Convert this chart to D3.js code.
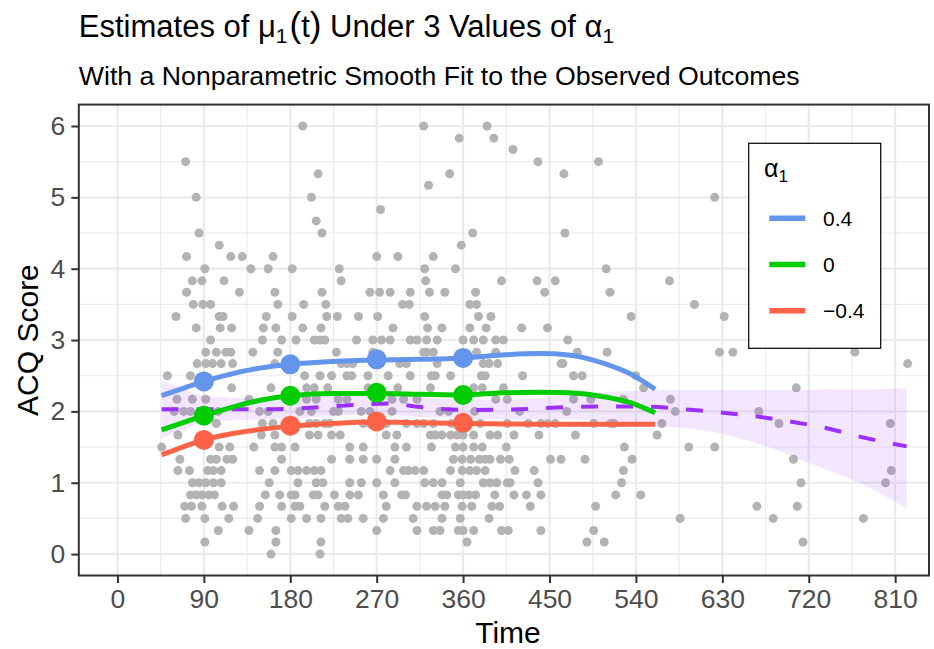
<!DOCTYPE html>
<html><head><meta charset="utf-8">
<script src="https://cdn.jsdelivr.net/npm/d3@7"></script>
<style>body{margin:0;background:#fff}svg{display:block;font-family:"Liberation Sans",Arial,Helvetica,sans-serif}</style>
</head><body><svg id="c" width="934" height="649"></svg>
<script>
// ---------- data ----------
const xTicks = [0, 90, 180, 270, 360, 450, 540, 630, 720, 810];
const yTicks = [0, 1, 2, 3, 4, 5, 6];
const seriesLabels = ["0.4", "0", "\u22120.4"];
const seriesColors = ["#6495ED", "#00CD00", "#FF6347"];

// observed outcomes: [score, times observed at that score]
const observedRows = [
  [6.00, [193, 319, 385]],
  [5.83, [356, 392]],
  [5.67, [412]],
  [5.50, [71, 438, 501]],
  [5.33, [209, 346, 465]],
  [5.17, [324]],
  [5.00, [82, 202, 622]],
  [4.83, [274]],
  [4.67, [207]],
  [4.50, [85, 213, 370, 466]],
  [4.33, [106, 358]],
  [4.17, [72, 118, 130, 162, 270, 292, 329]],
  [4.00, [91, 139, 157, 182, 231, 320, 352, 509]],
  [3.83, [78, 88, 111, 233, 321, 400, 437, 456, 575]],
  [3.67, [72, 127, 164, 213, 263, 273, 284, 305, 325, 341, 373, 445, 513]],
  [3.50, [79, 89, 97, 167, 194, 217, 297, 304, 367, 374, 601]],
  [3.33, [61, 106, 110, 155, 182, 218, 229, 251, 271, 320, 376, 389, 535, 632]],
  [3.17, [82, 107, 119, 152, 165, 193, 212, 287, 323, 338, 367, 384, 421, 448]],
  [3.00, [97, 151, 171, 186, 205, 211, 216, 249, 266, 275, 284, 305, 312, 322, 333, 360, 371, 381, 394, 402, 469]],
  [2.83, [92, 103, 113, 118, 141, 167, 228, 266, 319, 322, 329, 374, 394, 479, 510, 627, 641, 768]],
  [2.67, [83, 92, 99, 108, 120, 164, 233, 239, 245, 294, 301, 333, 381, 387, 396, 462, 464, 823]],
  [2.50, [52, 76, 195, 211, 223, 239, 244, 261, 282, 305, 327, 331, 347, 379, 383, 422, 475, 484, 540]],
  [2.33, [119, 160, 197, 205, 219, 261, 292, 326, 371, 380, 402, 548, 707]],
  [2.17, [62, 78, 92, 137, 197, 207, 230, 239, 286, 298, 312, 394, 406, 475, 493, 527, 576]],
  [2.00, [59, 69, 76, 105, 148, 157, 190, 202, 225, 230, 254, 263, 286, 336, 345, 372, 419, 468, 581, 668]],
  [1.83, [103, 151, 162, 200, 207, 216, 221, 256, 263, 280, 301, 312, 319, 329, 348, 378, 406, 428, 441, 448, 456, 496, 514, 517, 567, 689, 805]],
  [1.67, [63, 150, 164, 200, 209, 223, 232, 280, 291, 326, 331, 338, 347, 354, 360, 371, 388, 396, 413, 439, 477, 562]],
  [1.50, [46, 106, 117, 142, 164, 171, 185, 242, 256, 289, 301, 327, 352, 360, 371, 380, 405, 528, 595, 622]],
  [1.33, [65, 97, 103, 114, 120, 171, 223, 242, 256, 270, 289, 350, 359, 368, 377, 383, 388, 399, 408, 451, 462, 487, 536, 704]],
  [1.17, [63, 75, 94, 100, 108, 148, 164, 181, 188, 197, 205, 212, 284, 298, 303, 310, 319, 347, 359, 367, 374, 383, 414, 434, 527, 806]],
  [1.00, [78, 85, 92, 100, 108, 158, 188, 207, 214, 242, 254, 270, 289, 320, 329, 338, 357, 381, 388, 395, 406, 409, 438, 525, 712, 800]],
  [0.83, [76, 82, 88, 95, 101, 154, 169, 181, 185, 204, 209, 226, 242, 251, 277, 296, 300, 338, 343, 355, 360, 366, 373, 393, 413, 426, 441, 519, 545]],
  [0.67, [70, 77, 88, 109, 121, 148, 171, 185, 190, 216, 230, 237, 280, 312, 322, 331, 341, 359, 369, 390, 398, 430, 498, 666, 708]],
  [0.50, [71, 91, 116, 146, 181, 197, 212, 233, 240, 256, 277, 308, 338, 357, 387, 586, 683, 777]],
  [0.33, [105, 137, 165, 270, 312, 329, 336, 355, 360, 371, 400, 407, 441, 496]],
  [0.17, [91, 165, 212, 364, 489, 507, 714]],
  [0.00, [160, 211]]
];

// nonparametric smooth (loess) of observed outcomes, with confidence band
const loessTime  = [46, 100, 150, 200, 245, 285, 310, 330, 370, 420, 470, 520, 555, 590, 625, 665, 700, 740, 775, 822];
const loessValue = [2.03, 2.03, 2.03, 2.05, 2.09, 2.11, 2.07, 2.04, 2.02, 2.03, 2.06, 2.07, 2.065, 2.03, 1.99, 1.93, 1.86, 1.76, 1.64, 1.51];
const bandTime  = [46, 70, 90, 130, 180, 225, 270, 315, 360, 420, 470, 505, 540, 575, 608, 642, 678, 712, 747, 782, 822];
const bandUpper = [2.44, 2.31, 2.22, 2.19, 2.20, 2.22, 2.24, 2.20, 2.16, 2.17, 2.23, 2.27, 2.29, 2.30, 2.30, 2.30, 2.30, 2.30, 2.31, 2.31, 2.32];
const bandLower = [1.62, 1.75, 1.85, 1.88, 1.90, 1.94, 1.96, 1.92, 1.90, 1.89, 1.89, 1.86, 1.82, 1.78, 1.74, 1.645, 1.50, 1.32, 1.14, 0.94, 0.64];

// estimated mean curves mu_1(t) under alpha_1 = 0.4, 0, -0.4
const curveTime = [46, 70, 90, 120, 150, 180, 225, 270, 315, 360, 400, 440, 470, 505, 535, 560];
const curvePos  = [2.22, 2.33, 2.42, 2.53, 2.61, 2.66, 2.70, 2.72, 2.73, 2.75, 2.79, 2.81, 2.79, 2.68, 2.52, 2.31];
const curveZero = [1.74, 1.85, 1.94, 2.06, 2.16, 2.22, 2.25, 2.25, 2.24, 2.23, 2.26, 2.27, 2.26, 2.21, 2.12, 1.98];
const curveNeg  = [1.39, 1.51, 1.60, 1.69, 1.75, 1.79, 1.83, 1.85, 1.84, 1.83, 1.825, 1.82, 1.82, 1.82, 1.82, 1.82];
// estimates at the scheduled visit times
const visitTime = [90, 180, 270, 360];
const visitPos  = [2.42, 2.66, 2.73, 2.75];
const visitZero = [1.94, 2.22, 2.26, 2.23];
const visitNeg  = [1.60, 1.80, 1.86, 1.84];

// ---------- drawing ----------
const svg = d3.select("#c");
const P = {left: 78.8, right: 929, top: 104.6, bottom: 575.5};
const x = d3.scaleLinear().domain([-40.25, 845.25]).range([P.left, P.right]);
const y = d3.scaleLinear().domain([-0.3, 6.3]).range([P.bottom, P.top]);

svg.append("rect").attr("width", 934).attr("height", 649).attr("fill", "#fff");

svg.append("clipPath").attr("id", "pclip").append("rect")
  .attr("x", P.left).attr("y", P.top).attr("width", P.right - P.left).attr("height", P.bottom - P.top);

const grid = svg.append("g");
const xMinor = xTicks.slice(0, -1).map((d, i) => (d + xTicks[i + 1]) / 2);
const yMinor = yTicks.slice(0, -1).map((d, i) => (d + yTicks[i + 1]) / 2);
grid.selectAll(".vx").data(xMinor).join("line")
  .attr("x1", d => x(d)).attr("x2", d => x(d)).attr("y1", P.top).attr("y2", P.bottom)
  .attr("stroke", "#EBEBEB").attr("stroke-width", 1.1);
grid.selectAll(".vy").data(yMinor).join("line")
  .attr("y1", d => y(d)).attr("y2", d => y(d)).attr("x1", P.left).attr("x2", P.right)
  .attr("stroke", "#EBEBEB").attr("stroke-width", 1.1);
grid.selectAll(".mx").data(xTicks).join("line")
  .attr("x1", d => x(d)).attr("x2", d => x(d)).attr("y1", P.top).attr("y2", P.bottom)
  .attr("stroke", "#EBEBEB").attr("stroke-width", 2.2);
grid.selectAll(".my").data(yTicks).join("line")
  .attr("y1", d => y(d)).attr("y2", d => y(d)).attr("x1", P.left).attr("x2", P.right)
  .attr("stroke", "#EBEBEB").attr("stroke-width", 2.2);

const plot = svg.append("g").attr("clip-path", "url(#pclip)");

// observed points
const observed = observedRows.flatMap(([s, ts]) => ts.map(t => [t, s]));
plot.append("g").selectAll("circle").data(observed).join("circle")
  .attr("cx", d => x(d[0])).attr("cy", d => y(d[1])).attr("r", 4.5).attr("fill", "#B3B3B3");

// loess band + line
const band = bandTime.map((t, i) => ({t, lo: bandLower[i], hi: bandUpper[i]}));
plot.append("path").datum(band)
  .attr("d", d3.area().x(d => x(d.t)).y0(d => y(d.lo)).y1(d => y(d.hi)).curve(d3.curveMonotoneX))
  .attr("fill", "#9B30FF").attr("fill-opacity", 0.12);
const loess = loessTime.map((t, i) => [t, loessValue[i]]);
plot.append("path").datum(loess)
  .attr("d", d3.line().x(d => x(d[0])).y(d => y(d[1])).curve(d3.curveMonotoneX))
  .attr("fill", "none").attr("stroke", "#9B30FF").attr("stroke-width", 4).attr("stroke-dasharray", "17,18");

// curves
const curves = [curvePos, curveZero, curveNeg];
const visits = [visitPos, visitZero, visitNeg];
const line = d3.line().x(d => x(d[0])).y(d => y(d[1])).curve(d3.curveMonotoneX);
[2, 1, 0].forEach(k => {
  plot.append("path").datum(curveTime.map((t, i) => [t, curves[k][i]]))
    .attr("d", line).attr("fill", "none").attr("stroke", seriesColors[k]).attr("stroke-width", 5);
});
[2, 1, 0].forEach(k => {
  plot.append("g").selectAll("circle").data(visitTime.map((t, i) => [t, visits[k][i]])).join("circle")
    .attr("cx", d => x(d[0])).attr("cy", d => y(d[1])).attr("r", 10).attr("fill", seriesColors[k]);
});

// panel border
svg.append("rect").attr("x", P.left).attr("y", P.top).attr("width", P.right - P.left).attr("height", P.bottom - P.top)
  .attr("fill", "none").attr("stroke", "#333333").attr("stroke-width", 2);

// axes
const ax = svg.append("g").attr("transform", `translate(0,${P.bottom})`)
  .call(d3.axisBottom(x).tickValues(xTicks).tickSize(7.5).tickPadding(6).tickFormat(d3.format("d")));
const ay = svg.append("g").attr("transform", `translate(${P.left},0)`)
  .call(d3.axisLeft(y).tickValues(yTicks).tickSize(7.5).tickPadding(6).tickFormat(d3.format("d")));
[ax, ay].forEach(a => {
  a.select(".domain").remove();
  a.selectAll(".tick line").attr("stroke", "#333333").attr("stroke-width", 2);
  a.selectAll(".tick text").attr("fill", "#4D4D4D").attr("font-size", 26.5)
    .attr("font-family", "'Liberation Sans', Arial, sans-serif");
});

// axis titles
svg.append("text").attr("x", 508).attr("y", 643).attr("text-anchor", "middle")
  .attr("font-size", 30).attr("fill", "#000").text("Time");
svg.append("text").attr("transform", `translate(38,${(P.top + P.bottom) / 2}) rotate(-90)`)
  .attr("text-anchor", "middle").attr("font-size", 30).attr("fill", "#000").text("ACQ Score");

// title & subtitle
const title = svg.append("text").attr("x", P.left).attr("y", 37).attr("font-size", 31).attr("fill", "#000");
title.append("tspan").text("Estimates of \u03BC");
title.append("tspan").attr("font-size", 21).attr("dy", 6).text("1");
title.append("tspan").attr("dy", -6).attr("dx", 2).attr("font-size", 35).text("(");
title.append("tspan").text("t");
title.append("tspan").attr("font-size", 35).text(")");
title.append("tspan").text(" Under 3 Values of \u03B1");
title.append("tspan").attr("font-size", 21).attr("dy", 6).text("1");
svg.append("text").attr("x", P.left).attr("y", 85).attr("font-size", 26.7).attr("fill", "#000")
  .text("With a Nonparametric Smooth Fit to the Observed Outcomes");

// legend
const lg = svg.append("g");
lg.append("rect").attr("x", 748.7).attr("y", 143.3).attr("width", 132).attr("height", 205)
  .attr("fill", "#fff").attr("stroke", "#000").attr("stroke-width", 1.2);
const lt = lg.append("text").attr("x", 764).attr("y", 177).attr("font-size", 25).attr("fill", "#000");
lt.append("tspan").text("\u03B1");
lt.append("tspan").attr("font-size", 17).attr("dy", 5).text("1");
seriesLabels.forEach((lab, i) => {
  const cy = 218.3 + i * 46.2;
  lg.append("line").attr("x1", 769.3).attr("x2", 805.3).attr("y1", cy).attr("y2", cy)
    .attr("stroke", seriesColors[i]).attr("stroke-width", 5.5);
  lg.append("text").attr("x", 823).attr("y", cy).attr("dy", "0.36em").attr("font-size", 21)
    .attr("fill", "#000").text(lab);
});
</script></body></html>
